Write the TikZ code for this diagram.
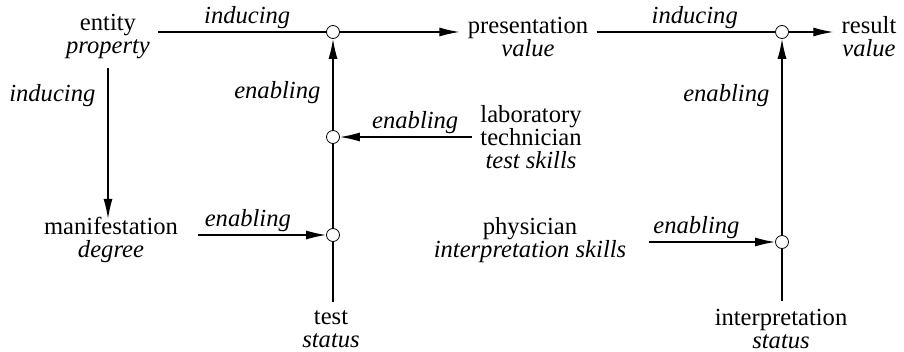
\documentclass[tikz,border=0pt]{standalone}
\usepackage{fontspec}
\setmainfont{Liberation Serif}
\usetikzlibrary{arrows.meta}
\tikzset{>={Latex[length=10pt,width=4.5pt]}}
\tikzset{
  term/.style={align=center, inner sep=4pt, font=\fontsize{12.3}{11.5}\selectfont},
  junction/.style={circle, draw, minimum size=6.5pt, inner sep=0pt},
  flow/.style={line width=0.65pt},
  role/.style={font=\fontsize{12.3}{11.5}\selectfont\itshape, inner sep=1.5pt}
}

\begin{document}
\begin{tikzpicture}[x=0.5pt, y=-0.5pt]
\useasboundingbox (0,0) rectangle (904,352);
% terms
	\node[term] (entity) at (108,37) {entity\\\textit{property}};
	\node[term] (presentation) at (528,37) {presentation\\\textit{value}};
	\node[term] (result) at (869,37) {result\\\textit{value}};
	\node[term] (manifestation) at (111,240) {manifestation\\\textit{degree}};
	\node[term] (technician) at (531,137) {laboratory\\technician\\\textit{test skills}};
	\node[term] (physician) at (530,240) {physician\\\textit{interpretation skills}};
	\node[term] (test) at (331,329) {test\\\textit{status}};
	\node[term] (interpretation) at (781,329) {interpretation\\\textit{status}};

% junctions
	\node[junction] (j1) at (333,32) {};
	\node[junction] (j2) at (333,137) {};
	\node[junction] (j3) at (333,235) {};
	\node[junction] (j4) at (782,32) {};
	\node[junction] (j5) at (782,242) {};

% inducing
	\draw[flow] (entity.east |- j1) -- node[role, above, pos=0.53] {inducing} (j1.west);
	\draw[flow, ->] (j1.east) -- (presentation.west |- j1);
	\draw[flow] (presentation.east |- j4) -- node[role, above, pos=0.55] {inducing} (j4.west);
	\draw[flow, ->] (j4.east) -- (result.west |- j4);
	\draw[flow, ->, shorten >=-5pt] (entity.south) -- node[role, left, pos=0.2, inner sep=6pt] {inducing} (entity.south |- manifestation.north);

% enabling
	\draw[flow] (j3 |- test.north) -- (j3.south);
	\draw[flow] (j3.north) -- (j2.south);
	\draw[flow, ->] (j2.north) -- node[role, left, pos=0.41, inner sep=6pt] {enabling} (j1.south);
	\draw[flow, ->] (technician.west) -- node[role, above, pos=0.43] {enabling} (j2.east);
	\draw[flow, ->, shorten <=6pt] (manifestation.east |- j3) -- node[role, above, pos=0.44] {enabling} (j3.west);
	\draw[flow] (j5 |- interpretation.north) -- (j5.south);
	\draw[flow, ->] (j5.north) -- node[role, left, pos=0.71, inner sep=6pt] {enabling} (j4.south);
	\draw[flow, ->, shorten <=7pt] (physician.east |- j5) -- node[role, above, pos=0.44] {enabling} (j5.west);
\end{tikzpicture}
\end{document}
